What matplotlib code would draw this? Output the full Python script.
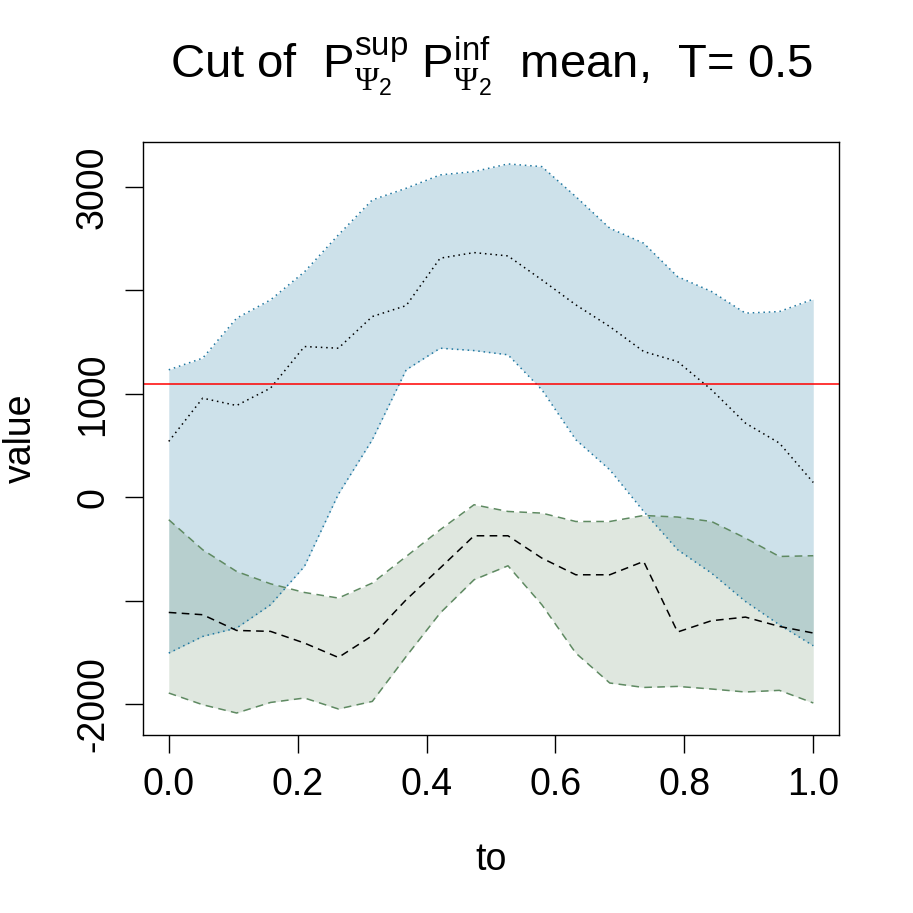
import matplotlib
matplotlib.use('Agg')
import matplotlib.pyplot as plt
import numpy as np

# data (20 cuts between 0 and 1)
to = np.linspace(0, 1, 20)

sup_upper = [1232, 1345, 1731, 1908, 2179, 2536, 2874, 2987, 3116, 3148,
             3222, 3196, 2906, 2601, 2456, 2133, 1989, 1780, 1795, 1915]
sup_mean = [540, 958, 887, 1055, 1457, 1441, 1747, 1853, 2311, 2365,
            2333, 2101, 1860, 1650, 1409, 1312, 1039, 717, 524, 143]
sup_lower = [-1506, -1345, -1264, -1039, -668, 30, 556, 1232, 1441, 1418,
             1377, 1039, 556, 266, -137, -507, -733, -1007, -1232, -1435]

inf_upper = [-217, -507, -717, -836, -920, -974, -829, -572, -314, -72,
             -137, -153, -234, -234, -176, -191, -234, -394, -572, -565]
inf_mean = [-1113, -1135, -1287, -1296, -1409, -1548, -1338, -990, -684, -372,
            -372, -588, -749, -749, -620, -1302, -1193, -1158, -1248, -1312]
inf_lower = [-1892, -2005, -2085, -1983, -1940, -2046, -1973, -1538, -1119, -797,
             -662, -1039, -1506, -1795, -1838, -1828, -1853, -1882, -1866, -1988]

threshold = 1094

yticks = [-2000, -1000, 0, 1000, 2000, 3000]
ytick_labels = ['-2000', '', '0', '1000', '', '3000']
xticks = [0.0, 0.2, 0.4, 0.6, 0.8, 1.0]

plt.rcParams['font.family'] = ['Liberation Sans', 'DejaVu Sans']
plt.rcParams['mathtext.fontset'] = 'custom'
plt.rcParams['mathtext.rm'] = 'Liberation Sans'
plt.rcParams['mathtext.it'] = 'Liberation Sans'
plt.rcParams['mathtext.bf'] = 'Liberation Sans:bold'
plt.rcParams['mathtext.sf'] = 'Liberation Serif'  # greek letter in a serif face

blue = '#1f77a0'
green = '#5f8a62'

fig = plt.figure(figsize=(9.13, 9.13), dpi=100)
ax = fig.add_axes([0.1566, 0.195, 0.919 - 0.1566, 0.8445 - 0.195])

# blue band (sup)
ax.fill_between(to, sup_lower, sup_upper, color=blue, alpha=0.22, lw=0)
ax.plot(to, sup_upper, color=blue, lw=1.1, dashes=(1, 2.5))
ax.plot(to, sup_lower, color=blue, lw=1.1, dashes=(1, 2.5))
ax.plot(to, sup_mean, color='black', lw=1.1, dashes=(1, 2.5))

# green band (inf)
ax.fill_between(to, inf_lower, inf_upper, color=green, alpha=0.2, lw=0)
ax.plot(to, inf_upper, color=green, lw=1.1, dashes=(5, 3.5))
ax.plot(to, inf_lower, color=green, lw=1.1, dashes=(5, 3.5))
ax.plot(to, inf_mean, color='black', lw=1.1, dashes=(5, 3.5))

ax.axhline(threshold, color='red', lw=1.1)

allv = np.concatenate([sup_upper, sup_lower, inf_upper, inf_lower])
span = allv.max() - allv.min()
ax.set_xlim(-0.04, 1.04)
ax.set_ylim(allv.min() - 0.04 * span, allv.max() + 0.04 * span)

ax.set_xticks(xticks)
ax.set_xticklabels(['%.1f' % v for v in xticks])
ax.set_yticks(yticks)
ax.set_yticklabels(ytick_labels, rotation=90, va='center')
ax.tick_params(axis='both', labelsize=27, length=13, width=1.0)
ax.tick_params(axis='x', pad=10)
ax.tick_params(axis='y', pad=10)
for s in ax.spines.values():
    s.set_linewidth(1.0)

ax.set_xlabel('to', fontsize=27, labelpad=28)
ax.set_ylabel('value', fontsize=27, labelpad=26)

ax.set_title(r'Cut of  $\mathrm{P}_{\mathsf{\Psi}_2}^{\mathrm{sup}}\ \mathrm{P}_{\mathsf{\Psi}_2}^{\mathrm{inf}}$  mean,  T= 0.5',
             fontsize=34, pad=46)

fig.savefig('out.png', dpi=100)
